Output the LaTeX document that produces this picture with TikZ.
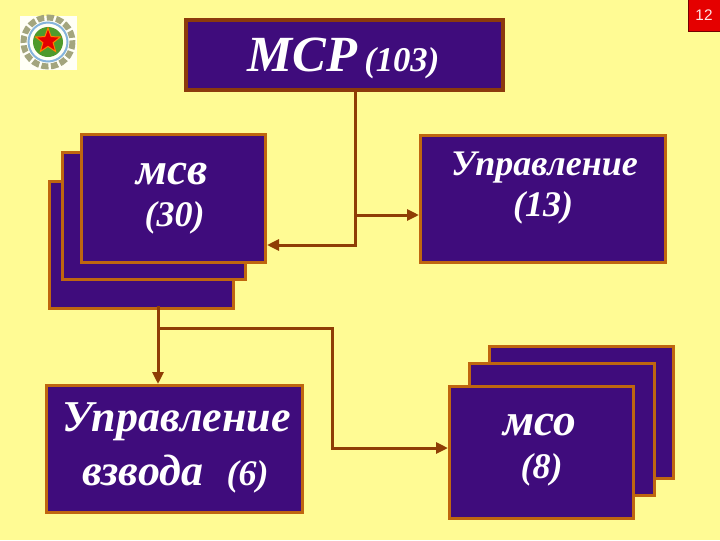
\documentclass[tikz,border=0pt]{standalone}
\usepackage{fontspec}
\setmainfont{Liberation Serif}
\newfontfamily\pagefont{Liberation Sans}
\usetikzlibrary{arrows.meta,shapes.geometric}
\definecolor{bgyellow}{HTML}{FFFB94}
\definecolor{boxpurple}{HTML}{3F0C7C}
\definecolor{boxedge}{HTML}{BF660F}
\definecolor{topedge}{HTML}{8C3A0C}
\definecolor{wire}{HTML}{8F3D05}
\definecolor{gearcol}{HTML}{A3A57E}
\definecolor{ringcol}{HTML}{85B4DC}
\definecolor{disccol}{HTML}{4E9A2C}
\def\px{0.75pt}
\tikzset{
  x=0.75pt,y=-0.75pt,
  panel/.style n args={2}{draw=boxedge,fill=boxpurple,line width=3*\px,inner sep=0pt,
    minimum width=#1*\px,minimum height=#2*\px},
  label/.style={text=white,inner sep=0pt,anchor=base},
  wirearrow/.style={draw=wire,line width=3*\px,-{Triangle[length=12*\px,width=11*\px]}},
}
\newcommand{\bigf}[1]{\fontsize{#1}{#1}\selectfont\bfseries\itshape}
\begin{document}
\begin{tikzpicture}
\useasboundingbox[fill=bgyellow] (0,0) rectangle (720,540);
% emblem
\fill[white!92!bgyellow] (20,16) rectangle (77,70);
\draw[draw=gearcol,line width=6*\px,dash pattern=on 7*\px off 2.5*\px] (48,42) circle (24.5);
\draw[draw=ringcol,line width=2*\px] (48,42) circle (19.5);
\fill[disccol] (48,42) circle (15);
\node[star,star points=5,star point ratio=2.4,fill=red!90!black,draw=orange,line width=1*\px,
  minimum size=26*\px,inner sep=0pt] (starmark) at (48,41) {};
% page number
\node[draw=red!45!black,fill=red!90!black,line width=1*\px,minimum width=32*\px,minimum height=32*\px,
  inner sep=0pt,text=white!90!red,font=\pagefont\fontsize{11.5}{12}\selectfont] (pageno) at (704,15.5) {12};
% top box
\node[panel={317}{70},draw=topedge,line width=4.5*\px] (msr) at (344.5,55) {};
\node[label,anchor=base west] (msrtxt) at (247,71) {\bigf{38}МСР};
\node[label,anchor=base west] (msrnum) at (364,71) {\bigf{26}(103)};
% msv stack
\node[panel={184}{127}] (msvc) at (141.5,245) {};
\node[panel={183}{127}] (msvb) at (154,216) {};
\node[panel={184}{128}] (msv) at (173.5,198.5) {};
\node[label] (msvtxt) at (172.5,184) {\bigf{34}мсв};
\node[label] (msvnum) at (174.5,226) {\bigf{27}(30)};
% upravlenie
\node[panel={245}{127}] (upr) at (543,199) {};
\node[label] (uprtxt) at (544.5,175) {\bigf{27}Управление};
\node[label] (uprnum) at (543,216) {\bigf{27}(13)};
% platoon
\node[panel={256}{127}] (vzv) at (174.5,449) {};
\node[label] (vzv1) at (176.5,431) {\bigf{33}Управление};
\node[label] (vzv2) at (143,485) {\bigf{33}взвода};
\node[label] (vzv3) at (247.5,485) {\bigf{27}(6)};
% mso stack
\node[panel={184}{132}] (msoc) at (581.5,412.5) {};
\node[panel={185}{132}] (msob) at (562,429.5) {};
\node[panel={184}{132}] (mso) at (541.5,452.5) {};
\node[label] (msotxt) at (540,435) {\bigf{34}мсо};
\node[label] (msonum) at (541.5,478) {\bigf{27}(8)};
% junction points
\coordinate (j1) at (355,90);
\coordinate (j2) at (355,245);
\coordinate (j3) at (355,215);
\coordinate (j4) at (158,328);
\coordinate (j5) at (332,328);
\coordinate (j6) at (332,448);
\coordinate (j0) at (158,306);
% connectors
\draw[wirearrow] (j1) -- (j2) -- (msv.east |- j2);
\draw[wirearrow] (j3) -- (upr.west |- j3);
\draw[wirearrow] (j0) -- (vzv.north -| j0);
\draw[wirearrow] (j4) -- (j5) -- (j6) -- (mso.west |- j6);
\end{tikzpicture}
\end{document}
